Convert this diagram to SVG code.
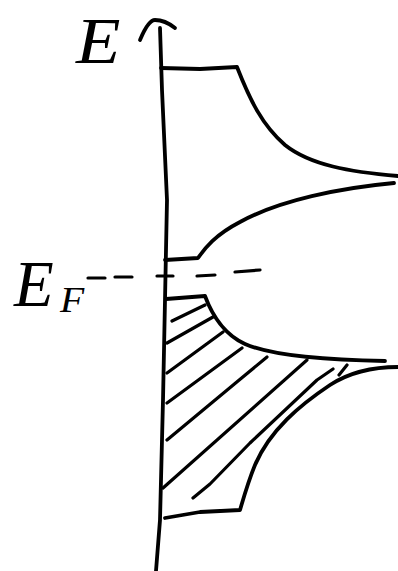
<svg xmlns="http://www.w3.org/2000/svg" width="398" height="571" viewBox="0 0 398 571">
<style>
.ln{fill:none;stroke:#000;stroke-width:3.8;stroke-linecap:round;stroke-linejoin:round}
.h{fill:none;stroke:#000;stroke-width:3.2;stroke-linecap:round;stroke-linejoin:round}
.d{fill:none;stroke:#000;stroke-width:3.2;stroke-linecap:round}
.lbl{font-family:"Liberation Serif","Times New Roman",serif;font-style:italic;fill:#000}
</style>
<rect width="398" height="571" fill="#fff"/>
<g id="axis">
<path class="ln" d="M160,28 L162,90 L167,200 L165,300 L163,400 L160,520 L156,571"/>
<path class="ln" d="M140,40 C145,28 150,20 155,20 C162,20 170,24 175,28"/>
<text class="lbl" transform="translate(76,63) scale(1.12,1)" font-size="65">E</text>
</g>
<g id="conduction-band">
<path class="ln" d="M161,68 L200,69 L237,67 C250,100 262,125 285,145 C310,165 350,172 398,176"/>
<path class="ln" d="M165,260 L198,258 C205,248 215,235 240,222 C280,200 340,188 394,183"/>
</g>
<g id="fermi-level">
<path class="d" d="M88,278 L105,278 M115,277 L132,277 M157,276 L173,276 M197,276 L215,275 M235,272 L260,270"/>
<text class="lbl" x="14" y="306" font-size="65">E</text>
<text class="lbl" transform="translate(60,312) scale(1.1,1)" font-size="36">F</text>
</g>
<g id="valence-band">
<path class="ln" d="M166,299 L205,296 C212,315 225,335 245,344 C270,355 320,360 385,361"/>
<path class="ln" d="M398,367 C375,367 350,372 330,385 C300,405 270,430 255,465 C248,482 243,500 240,510 L200,512 L165,518"/>
<path class="h" d="M172,321 L205,305 M167,343 L213,317 M167,373 L223,332 M167,403 L242,348 M167,440 L238,381 L267,357 M163,488 L307,360 M193,498 L210,484 L250,443 L317,380 L333,369 M339,375 L347,365"/>
</g>
</svg>
